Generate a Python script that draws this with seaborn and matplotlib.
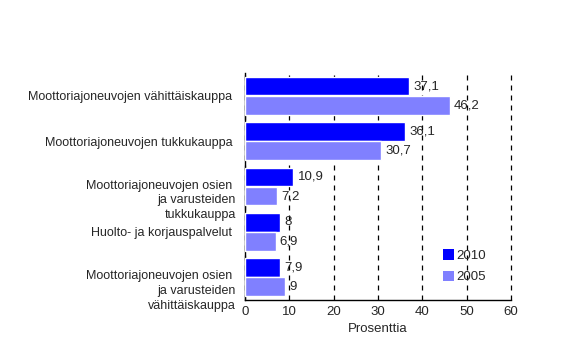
import numpy as np
import pandas as pd
import seaborn as sns
import matplotlib.pyplot as plt
from matplotlib.transforms import ScaledTranslation

categories = [
    "Moottoriajoneuvojen vähittäiskauppa ",
    "Moottoriajoneuvojen tukkukauppa ",
    "Moottoriajoneuvojen osien \nja varusteiden\ntukkukauppa",
    "Huolto- ja korjauspalvelut ",
    "Moottoriajoneuvojen osien \nja varusteiden\nvähittäiskauppa",
]
years = ["2010", "2005"]
values_2010 = [37.1, 36.1, 10.9, 8, 7.9]
values_2005 = [46.2, 30.7, 7.2, 6.9, 9]
xticks = [0, 10, 20, 30, 40, 50, 60]

df = pd.DataFrame({
    "category": categories * 2,
    "year": [years[0]] * len(categories) + [years[1]] * len(categories),
    "value": values_2010 + values_2005,
})

sns.set_style("white")
plt.rcParams['font.family'] = ['Liberation Sans', 'DejaVu Sans']
plt.rcParams['font.size'] = 9

fig = plt.figure(figsize=(5.65, 3.63), dpi=100)
ax = fig.add_axes([0.4336, 0.1736, 0.4708, 0.6254])

sns.barplot(data=df, y="category", x="value", hue="year", orient="h",
            palette={"2010": "#0000ff", "2005": "#8080ff"},
            width=0.84, gap=0.02, ax=ax, saturation=1, legend=True)

for cont, vals in zip(ax.containers, [values_2010, values_2005]):
    labels = [f"{v:g}".replace(".", ",") for v in vals]
    ax.bar_label(cont, labels=labels, padding=3, fontsize=9.5)

ax.set_xlim(0, 60)
ax.set_ylim(4.5, -0.5)
ax.set_xticks(xticks)
ax.set_xlabel("Prosenttia", fontsize=9.5)
ax.set_ylabel("")
ax.xaxis.grid(True, color="black", linestyle=(0, (4, 4)), linewidth=0.9)
for gl in ax.get_xgridlines():
    gl.set_clip_on(False)
ax.set_axisbelow(False)
for sp in ["top", "right"]:
    ax.spines[sp].set_visible(False)
for sp in ["left", "bottom"]:
    ax.spines[sp].set_color("black")
    ax.spines[sp].set_linewidth(1)
ax.tick_params(axis="both", length=0, labelsize=9)
ax.tick_params(axis="x", labelsize=9.5)
ax.tick_params(axis="y", pad=6.5)
ax.tick_params(axis="x", pad=4)

for lab in ax.get_yticklabels():
    lab.set_multialignment("right")
    if "\n" in lab.get_text():
        lab.set_linespacing(1.3)
        lab.set_transform(lab.get_transform() + ScaledTranslation(0, -0.11, fig.dpi_scale_trans))

leg = ax.legend(loc="upper left", bbox_to_anchor=(0.70, 0.275), frameon=False,
                handlelength=0.8, handleheight=0.8, handletextpad=0.2,
                labelspacing=0.65, fontsize=9.5)
for h in leg.legend_handles:
    h.set_edgecolor("none")
# bars above grid, grid visible between bars
for c in ax.containers:
    for p in c:
        p.set_zorder(3)
for t in ax.texts:
    t.set_zorder(4)

fig.savefig("out.png", dpi=100)
